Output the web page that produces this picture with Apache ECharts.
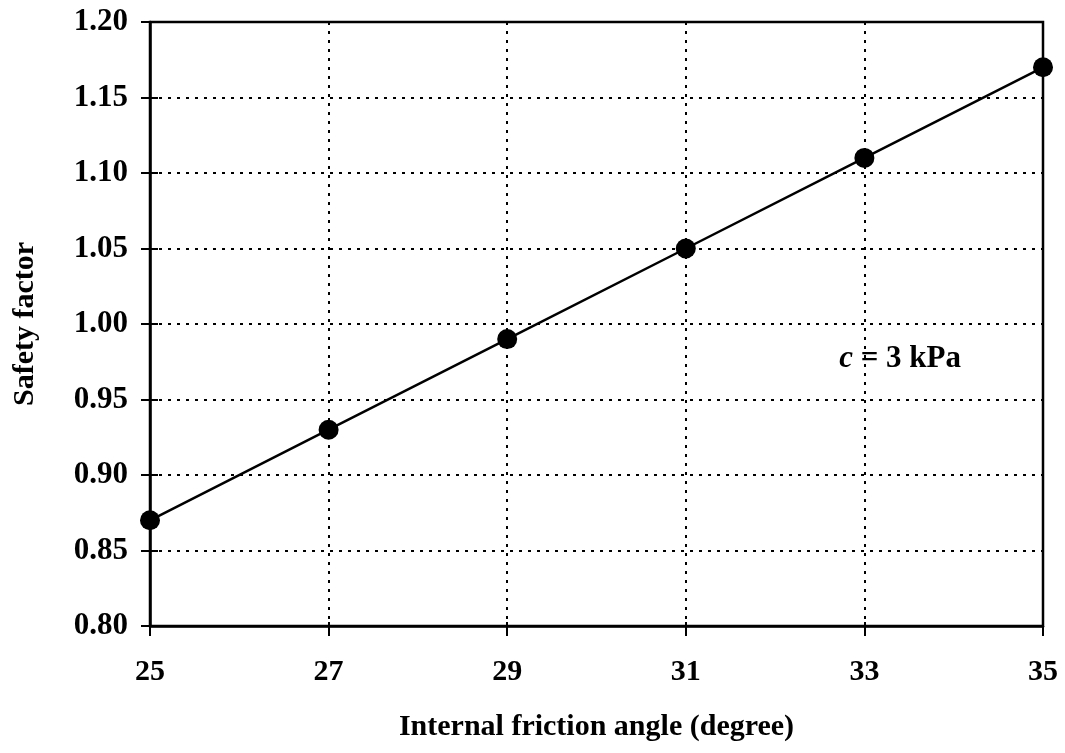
<!DOCTYPE html>
<html>
<head>
<meta charset="utf-8">
<script src="https://cdn.jsdelivr.net/npm/echarts@6/dist/echarts.min.js"></script>
<style>
html,body{margin:0;padding:0;background:#fff;}
#chart{width:1065px;height:753px;}
</style>
</head>
<body>
<div id="chart"></div>
<script>
const frictionAngle = [25, 27, 29, 31, 33, 35];
const safetyFactor = [0.87, 0.93, 0.99, 1.05, 1.11, 1.17];
const xTitle = 'Internal friction angle (degree)';
const yTitle = 'Safety factor';
const noteCoord = [33.4, 0.977];

const FONT = '"Liberation Serif", "Times New Roman", serif';
const chart = echarts.init(document.getElementById('chart'), null, {renderer: 'canvas'});
const points = frictionAngle.map((x, i) => [x, safetyFactor[i]]);

const xBase = {type: 'value', min: 25, max: 35, interval: 2};
const yBase = {type: 'value', min: 0.8, max: 1.2, interval: 0.05};
const tickStyle = {color: '#000', width: 2};

chart.setOption({
  backgroundColor: '#fff',
  animation: false,
  grid: {left: 150, right: 22, top: 22, bottom: 127, show: true, borderColor: '#000', borderWidth: 2.5, backgroundColor: 'transparent'},
  xAxis: [Object.assign({}, xBase, {
    name: xTitle, nameLocation: 'middle', nameGap: 86,
    nameTextStyle: {fontFamily: FONT, fontSize: 30, fontWeight: 'bold', color: '#000'},
    axisLine: {show: true, lineStyle: {color: '#000', width: 2.5}},
    axisTick: {show: true, length: 10, lineStyle: tickStyle},
    axisLabel: {fontFamily: FONT, fontSize: 30, fontWeight: 'bold', color: '#000', margin: 31},
    splitLine: {show: true, lineStyle: {color: '#000', width: 2, type: [3, 6]}}
  }), Object.assign({}, xBase, {
    position: 'bottom',
    axisLine: {show: false},
    axisTick: {show: true, inside: true, length: 4, lineStyle: tickStyle},
    axisLabel: {show: false},
    splitLine: {show: false}
  })],
  yAxis: [Object.assign({}, yBase, {
    name: yTitle, nameLocation: 'middle', nameGap: 110, nameRotate: 90,
    nameTextStyle: {fontFamily: FONT, fontSize: 30, fontWeight: 'bold', color: '#000'},
    axisLine: {show: true, lineStyle: {color: '#000', width: 2.5}},
    axisTick: {show: true, length: 9, lineStyle: tickStyle},
    axisLabel: {fontFamily: FONT, fontSize: 31, fontWeight: 'bold', color: '#000', margin: 22,
      formatter: v => v.toFixed(2)},
    splitLine: {show: true, lineStyle: {color: '#000', width: 2, type: [3, 6]}}
  }), Object.assign({}, yBase, {
    position: 'left',
    axisLine: {show: false},
    axisTick: {show: true, inside: true, length: 8, lineStyle: tickStyle},
    axisLabel: {show: false},
    splitLine: {show: false}
  })],
  series: [{
    type: 'line',
    xAxisIndex: 0, yAxisIndex: 0,
    data: points,
    symbol: 'circle', symbolSize: 20,
    itemStyle: {color: '#000'},
    lineStyle: {color: '#000', width: 2.5},
    clip: false,
    z: 5,
    markPoint: {
      symbol: 'circle', symbolSize: 0,
      data: [{coord: noteCoord}],
      label: {
        show: true, position: 'inside',
        formatter: '{i|c} = 3 kPa',
        fontFamily: FONT, fontSize: 31, fontWeight: 'bold', color: '#000',
        rich: {i: {fontFamily: FONT, fontSize: 31, fontStyle: 'italic', fontWeight: 'bold', color: '#000'}}
      }
    }
  }]
});
</script>
</body>
</html>
